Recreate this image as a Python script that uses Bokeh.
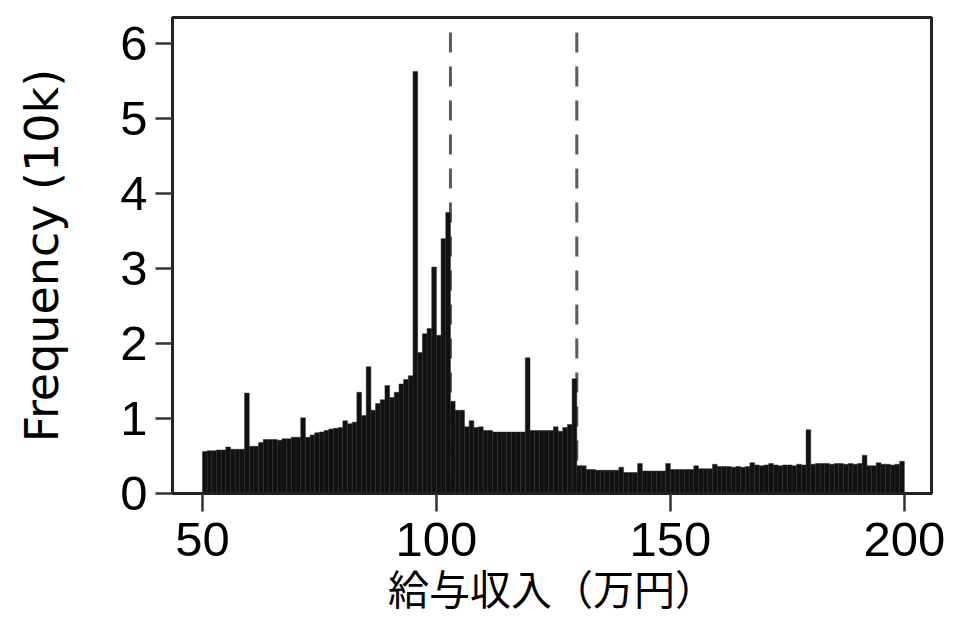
from bokeh.plotting import figure
from bokeh.models import Range1d, FixedTicker, ColumnDataSource
from bokeh.embed import file_html
from bokeh.resources import INLINE

# income bins (万円), left edges, width 1
bin_left = list(range(50, 200))
# frequency in units of 10k
freq_10k = [
    0.56, 0.57, 0.57, 0.58, 0.58, 0.62, 0.59, 0.59, 0.59, 1.34,   # 50-59
    0.63, 0.63, 0.68, 0.72, 0.72, 0.72, 0.71, 0.73, 0.73, 0.75,   # 60-69
    0.75, 1.01, 0.75, 0.78, 0.81, 0.82, 0.84, 0.86, 0.87, 0.88,   # 70-79
    0.97, 0.93, 0.95, 1.35, 1.04, 1.69, 1.11, 1.20, 1.25, 1.44,   # 80-89
    1.28, 1.35, 1.46, 1.52, 1.57, 5.63, 1.88, 2.13, 2.20, 3.02,   # 90-99
    2.11, 3.40, 3.75, 1.23, 1.11, 1.11, 0.89, 0.97, 0.88, 0.89,   # 100-109
    0.84, 0.84, 0.82, 0.82, 0.82, 0.82, 0.82, 0.82, 0.82, 1.81,   # 110-119
    0.84, 0.84, 0.84, 0.84, 0.84, 0.89, 0.83, 0.88, 0.92, 1.53,   # 120-129
    0.37, 0.37, 0.32, 0.32, 0.31, 0.31, 0.31, 0.31, 0.31, 0.35,   # 130-139
    0.28, 0.28, 0.28, 0.40, 0.30, 0.30, 0.30, 0.30, 0.30, 0.40,   # 140-149
    0.32, 0.32, 0.32, 0.32, 0.32, 0.37, 0.33, 0.33, 0.33, 0.39,   # 150-159
    0.36, 0.36, 0.36, 0.35, 0.36, 0.35, 0.36, 0.41, 0.38, 0.37,   # 160-169
    0.38, 0.40, 0.38, 0.37, 0.38, 0.38, 0.37, 0.39, 0.38, 0.85,   # 170-179
    0.39, 0.40, 0.40, 0.40, 0.39, 0.40, 0.40, 0.39, 0.40, 0.39,   # 180-189
    0.40, 0.51, 0.37, 0.37, 0.41, 0.39, 0.39, 0.38, 0.39, 0.43,   # 190-199
]
bin_right = [b + 1 for b in bin_left]

# threshold lines (103万円, 130万円)
thresholds = [103, 130]
threshold_top = [6.15, 6.15]
threshold_bottom = [0, 0]

x_ticks = [50, 100, 150, 200]
y_ticks = [0, 1, 2, 3, 4, 5, 6]

src = ColumnDataSource(dict(left=bin_left, right=bin_right, top=freq_10k,
                            bottom=[0] * len(bin_left)))

p = figure(frame_width=759, frame_height=476,
           output_backend="svg", toolbar_location=None,
           x_range=Range1d(43.6, 205.8), y_range=Range1d(0, 6.35),
           min_border_left=172, min_border_right=24,
           min_border_top=17, min_border_bottom=100)

p.background_fill_color = "white"
p.border_fill_color = "white"
p.outline_line_color = "#222222"
p.outline_line_width = 3
p.xgrid.visible = False
p.ygrid.visible = False

# dashed threshold lines drawn beneath the bars
p.segment(x0=thresholds, y0=threshold_top, x1=thresholds, y1=threshold_bottom,
          line_color="#5a5a5a", line_width=3, line_dash="20 14")

p.quad(left="left", right="right", top="top", bottom="bottom", source=src,
       fill_color="#111111", line_color="#2b2b2b", line_width=0.5)

for ax in (p.xaxis[0], p.yaxis[0]):
    ax.axis_line_color = "#222222"
    ax.axis_line_width = 3
    ax.major_tick_line_color = "#333333"
    ax.major_tick_line_width = 2.5
    ax.major_tick_in = 0
    ax.minor_tick_line_color = None
    ax.major_label_text_font = "Liberation Sans"
    ax.major_label_text_font_size = "49px"
    ax.major_label_text_color = "black"

p.xaxis.ticker = FixedTicker(ticks=x_ticks)
p.yaxis.ticker = FixedTicker(ticks=y_ticks)
p.xaxis.major_tick_out = 18
p.yaxis.major_tick_out = 17
p.xaxis.major_label_standoff = 11
p.yaxis.major_label_standoff = 8

p.xaxis.axis_label = "給与収入（万円）"
p.xaxis.axis_label_text_font = "Noto Sans CJK JP"
p.xaxis.axis_label_text_font_size = "41px"
p.xaxis.axis_label_text_font_style = "normal"
p.xaxis.axis_label_text_color = "black"
p.xaxis.axis_label_standoff = -2

p.yaxis.axis_label = "Frequency (10k)"
p.yaxis.axis_label_text_font = "DejaVu Sans"
p.yaxis.axis_label_text_font_size = "46px"
p.yaxis.axis_label_text_font_style = "normal"
p.yaxis.axis_label_text_color = "black"
p.yaxis.axis_label_standoff = 48

open("out.html", "w").write(file_html(p, INLINE))
